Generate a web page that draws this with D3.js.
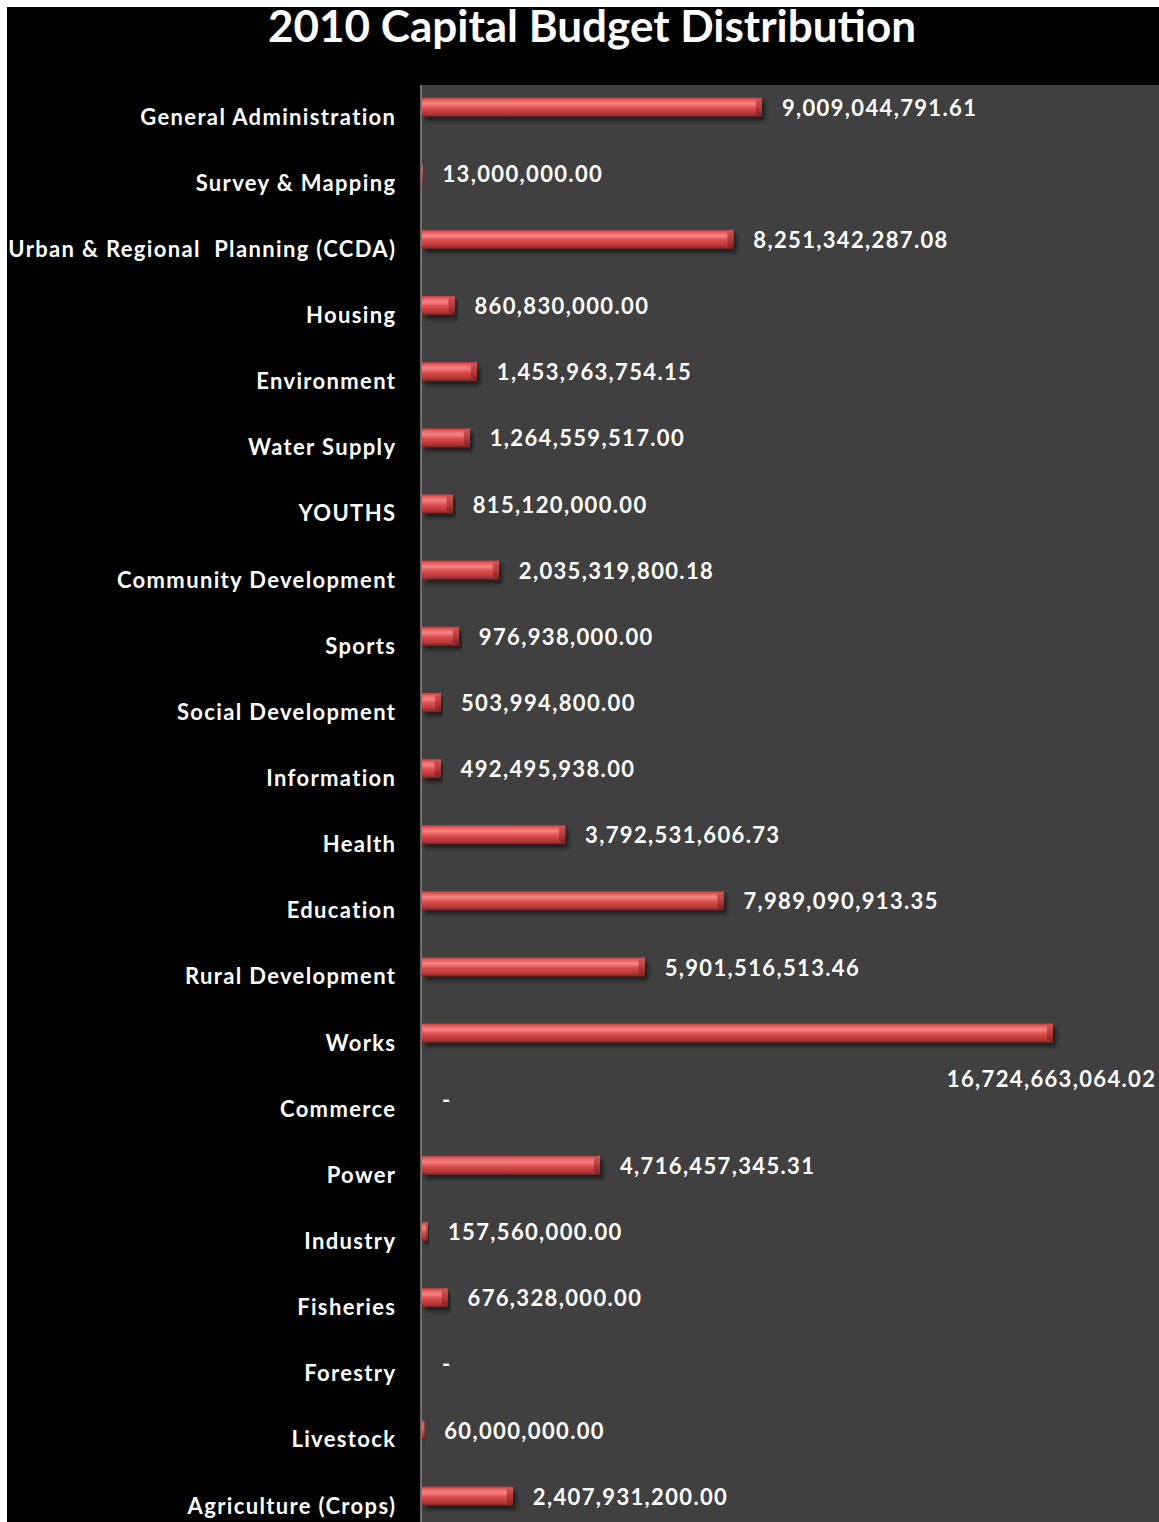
<!DOCTYPE html>
<html>
<head>
<meta charset="utf-8">
<script src="https://cdn.jsdelivr.net/npm/d3@7"></script>
<style>
  html, body { margin: 0; padding: 0; background: #ffffff; }
  svg { display: block; }
  text { font-family: Lato, "Open Sans", sans-serif; font-weight: bold; fill: #ffffff; }
</style>
</head>
<body>
<script>
// 2010 capital budget, by sector (naira)
const categories = [
  "General Administration", "Survey & Mapping", "Urban & Regional  Planning (CCDA)",
  "Housing", "Environment", "Water Supply", "YOUTHS", "Community Development",
  "Sports", "Social Development", "Information", "Health", "Education",
  "Rural Development", "Works", "Commerce", "Power", "Industry", "Fisheries",
  "Forestry", "Livestock", "Agriculture (Crops)"
];
const amounts = [
  9009044791.61, 13000000.00, 8251342287.08,
  860830000.00, 1453963754.15, 1264559517.00, 815120000.00, 2035319800.18,
  976938000.00, 503994800.00, 492495938.00, 3792531606.73, 7989090913.35,
  5901516513.46, 16724663064.02, 0, 4716457345.31, 157560000.00, 676328000.00,
  0, 60000000.00, 2407931200.00
];
const titleText = "2010 Capital Budget Distribution";

const W = 1159, H = 1522;
const frame = { left: 7, top: 7 };
const plot = { left: 421, top: 85, right: W, bottom: H };
const spacing = 1.35;

const svg = d3.select("body").append("svg").attr("width", W).attr("height", H);
const defs = svg.append("defs");

// bar shading: glossy red tube
const grad = defs.append("linearGradient").attr("id", "barFill")
  .attr("x1", 0).attr("y1", 0).attr("x2", 0).attr("y2", 1);
[["0%", "#b33a3a"], ["12%", "#e45a5a"], ["32%", "#f58585"], ["55%", "#dc4d4d"], ["85%", "#b33636"], ["100%", "#7e2222"]]
  .forEach(([o, c]) => grad.append("stop").attr("offset", o).attr("stop-color", c));
const capGrad = defs.append("linearGradient").attr("id", "capFill")
  .attr("x1", 0).attr("y1", 0).attr("x2", 0).attr("y2", 1);
[["0%", "#d05858"], ["50%", "#b83c3c"], ["100%", "#7a2020"]]
  .forEach(([o, c]) => capGrad.append("stop").attr("offset", o).attr("stop-color", c));

const shadow = defs.append("filter").attr("id", "barShadow")
  .attr("x", "-5%").attr("y", "-40%").attr("width", "115%").attr("height", "200%");
shadow.append("feDropShadow").attr("dx", 3).attr("dy", 4).attr("stdDeviation", 2)
  .attr("flood-color", "#000").attr("flood-opacity", 0.55);

// frame and plot area
svg.append("rect").attr("x", frame.left).attr("y", frame.top)
  .attr("width", W - frame.left).attr("height", H - frame.top).attr("fill", "#000000");
svg.append("rect").attr("x", plot.left).attr("y", plot.top)
  .attr("width", plot.right - plot.left).attr("height", plot.bottom - plot.top).attr("fill", "#404040");

// title
svg.append("text").attr("x", 592).attr("y", 42).attr("text-anchor", "middle")
  .style("font-size", "44px").text(titleText);

// scales
const x = d3.scaleLinear().domain([0, d3.max(amounts)]).range([422, 1053]);
const y = d3.scalePoint().domain(categories).range([107, 1496]);
const barH = 19;

// category axis
const yAxis = svg.append("g").attr("transform", `translate(${plot.left},0)`)
  .call(d3.axisLeft(y).tickSize(0).tickPadding(26 - spacing));
yAxis.select(".domain").attr("stroke", "#8a8a8a").attr("stroke-width", 1.5)
  .attr("d", `M0,${plot.top}V${plot.bottom}`);
yAxis.selectAll(".tick text")
  .attr("dy", "0.32em").attr("y", 10)
  .attr("fill", "#ffffff")
  .style("font-size", "22px").style("font-family", "Lato, 'Open Sans', sans-serif")
  .style("font-weight", "bold").style("white-space", "pre")
  .style("letter-spacing", spacing + "px");

const rows = categories.map((c, i) => ({ c, v: amounts[i] }));

// bars
const bars = svg.append("g").selectAll("g").data(rows.filter(d => d.v > 0)).join("g")
  .attr("filter", "url(#barShadow)");
bars.append("rect")
  .attr("x", x(0)).attr("y", d => y(d.c) - barH / 2)
  .attr("width", d => Math.max(0.8, x(d.v) - x(0))).attr("height", barH)
  .attr("fill", "url(#barFill)");
// bevelled right end
bars.append("path")
  .attr("d", d => {
    const x1 = x(d.v), w = Math.min(6, (x1 - x(0)) / 3), y0 = y(d.c) - barH / 2;
    return `M${x1 - w},${y0 + 3}L${x1},${y0}L${x1},${y0 + barH}L${x1 - w},${y0 + barH - 3}Z`;
  })
  .attr("fill", "url(#capFill)");

// value labels
const fmt = d3.format(",.2f");
const labels = svg.append("g").selectAll("text").data(rows).join("text")
  .attr("x", d => x(d.v) + 20)
  .attr("y", d => y(d.c) + 1)
  .attr("dy", "0.35em")
  .style("font-size", "22px")
  .style("letter-spacing", spacing + "px")
  .text(d => d.v > 0 ? fmt(d.v) : "-");
// a label that would run off the right edge drops below its bar, flush right
labels.each(function (d) {
  const t = d3.select(this);
  const len = this.getComputedTextLength();
  if (x(d.v) + 20 + len > W - 2) {
    t.attr("text-anchor", "end").attr("x", W - 4 + spacing).attr("y", y(d.c) + 46);
  }
});
</script>
</body>
</html>
